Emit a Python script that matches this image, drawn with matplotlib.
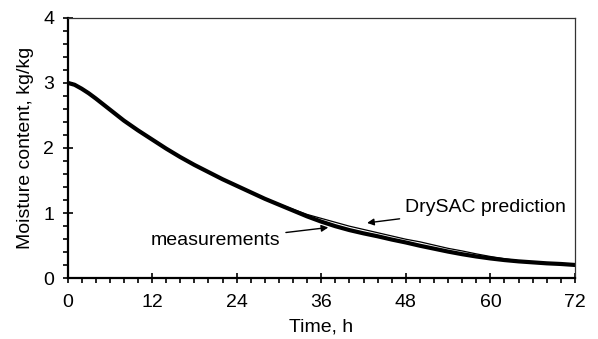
import matplotlib.pyplot as plt
import numpy as np
from matplotlib.ticker import MultipleLocator

plt.rcParams['font.family'] = ['Liberation Sans', 'DejaVu Sans']

# Drying time (h) and moisture content (kg/kg)
time_h = [0, 1, 2, 3, 4, 6, 8, 10, 12, 14, 16, 18, 20, 22, 24, 26, 28, 30, 32, 34, 36,
          38, 40, 42, 44, 46, 48, 50, 52, 54, 56, 58, 60, 62, 64, 66, 68, 70, 72]
measured = [3.0, 2.97, 2.91, 2.84, 2.76, 2.59, 2.42, 2.27, 2.13, 1.99, 1.86, 1.74,
            1.63, 1.52, 1.42, 1.32, 1.22, 1.13, 1.04, 0.95, 0.87, 0.80, 0.74, 0.69,
            0.645, 0.595, 0.55, 0.50, 0.455, 0.41, 0.37, 0.335, 0.305, 0.28, 0.26,
            0.245, 0.23, 0.22, 0.205]
predicted = [3.0, 2.97, 2.91, 2.84, 2.76, 2.59, 2.42, 2.27, 2.13, 1.99, 1.86, 1.74,
             1.63, 1.52, 1.42, 1.32, 1.23, 1.14, 1.06, 0.98, 0.92, 0.86, 0.80, 0.75,
             0.70, 0.65, 0.60, 0.56, 0.51, 0.46, 0.42, 0.375, 0.335, 0.30, 0.27,
             0.25, 0.23, 0.215, 0.20]

fig = plt.figure(figsize=(5.98, 3.39), dpi=100)
ax = fig.add_axes([0.1129, 0.179, 0.8486, 0.769])

ax.plot(time_h, measured, color='black', linewidth=3.0, solid_capstyle='round')
ax.plot(time_h, predicted, color='black', linewidth=0.9)

ax.set_xlim(0, 72)
ax.set_ylim(0, 4)
ax.xaxis.set_major_locator(MultipleLocator(12))
ax.xaxis.set_minor_locator(MultipleLocator(2))
ax.yaxis.set_major_locator(MultipleLocator(1))
ax.yaxis.set_minor_locator(MultipleLocator(0.2))
ax.tick_params(which='major', direction='inout', length=7, width=1.2, labelsize=14)
ax.tick_params(axis='x', which='major', pad=8)
ax.tick_params(axis='y', which='major', pad=6)
ax.tick_params(which='minor', direction='out', length=3.5, width=1.2)

for side in ['left', 'bottom']:
    ax.spines[side].set_linewidth(1.6)
for side in ['top', 'right']:
    ax.spines[side].set_linewidth(0.9)
    ax.spines[side].set_color('#333333')

ax.set_xlabel('Time, h', fontsize=14, labelpad=5)
ax.set_ylabel('Moisture content, kg/kg', fontsize=14, labelpad=7)

arrow = dict(arrowstyle='-|>', color='black', lw=1.0, mutation_scale=10,
             shrinkA=2, shrinkB=0)
ax.annotate('DrySAC prediction', xy=(42.5, 0.85), xytext=(47.9, 1.08),
            fontsize=14, ha='left', va='center', arrowprops=arrow)
ax.annotate('measurements', xy=(37.0, 0.78), xytext=(30.2, 0.575),
            fontsize=14, ha='right', va='center', arrowprops=arrow)

fig.savefig('out.png', dpi=100)
